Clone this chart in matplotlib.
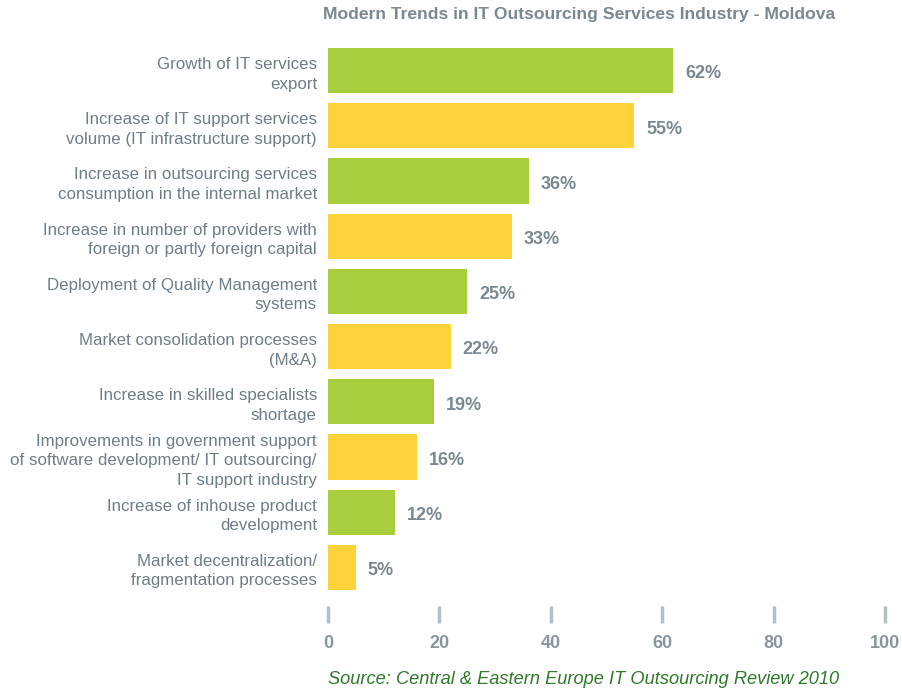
import matplotlib.pyplot as plt

plt.rcParams['font.family'] = ['Liberation Sans', 'DejaVu Sans']

# data
labels = [
    "Growth of IT services\nexport",
    "Increase of IT support services\nvolume (IT infrastructure support)",
    "Increase in outsourcing services\nconsumption in the internal market",
    "Increase in number of providers with\nforeign or partly foreign capital",
    "Deployment of Quality Management\nsystems",
    "Market consolidation processes\n(M&A)",
    "Increase in skilled specialists\nshortage",
    "Improvements in government support\nof software development/ IT outsourcing/\nIT support industry",
    "Increase of inhouse product\ndevelopment",
    "Market decentralization/\nfragmentation processes",
]
values = [62, 55, 36, 33, 25, 22, 19, 16, 12, 5]
xticks = [0, 20, 40, 60, 80, 100]

green = '#a8cd3f'
yellow = '#fdd23a'
grey = '#6f7d87'
colors = [green if i % 2 == 0 else yellow for i in range(len(values))]

fig = plt.figure(figsize=(9.02, 6.94), dpi=100)
ax = fig.add_axes([328 / 902, 1 - 595 / 694, 557 / 902, 552 / 694])

for s in ax.spines.values():
    s.set_visible(False)
ax.spines['bottom'].set_position(('outward', 8))

ypos = list(range(len(values)))
ax.barh(ypos, values, height=0.82, color=colors)
ax.set_ylim(len(values) - 0.5, -0.5)
ax.set_xlim(0, 100)

for y, v in zip(ypos, values):
    ax.text(v + 2.1, y + 0.06, "%d%%" % v, va='center', ha='left', fontsize=13,
            fontweight='bold', color='#7b8891')

ax.set_yticks(ypos)
ax.set_yticklabels(labels, fontsize=12.2, color=grey, linespacing=1.38)
ax.tick_params(axis='y', length=0, pad=8)

ax.set_xticks(xticks)
ax.set_xticklabels([str(t) for t in xticks], fontsize=13, fontweight='bold', color='#8a969e')
ax.tick_params(axis='x', length=12.5, width=2.5, color='#b3bfc7', pad=8.5)

fig.text(579 / 902, 1 - 15 / 694, "Modern Trends in IT Outsourcing Services Industry - Moldova",
         ha='center', va='center', fontsize=12.6, fontweight='bold', color='#7b8891')
fig.text(328 / 902, 1 - 680 / 694, "Source: Central & Eastern Europe IT Outsourcing Review 2010",
         ha='left', va='center', fontsize=13.15, style='italic', color='#2f7a2a')

fig.savefig('out.png', dpi=100)
